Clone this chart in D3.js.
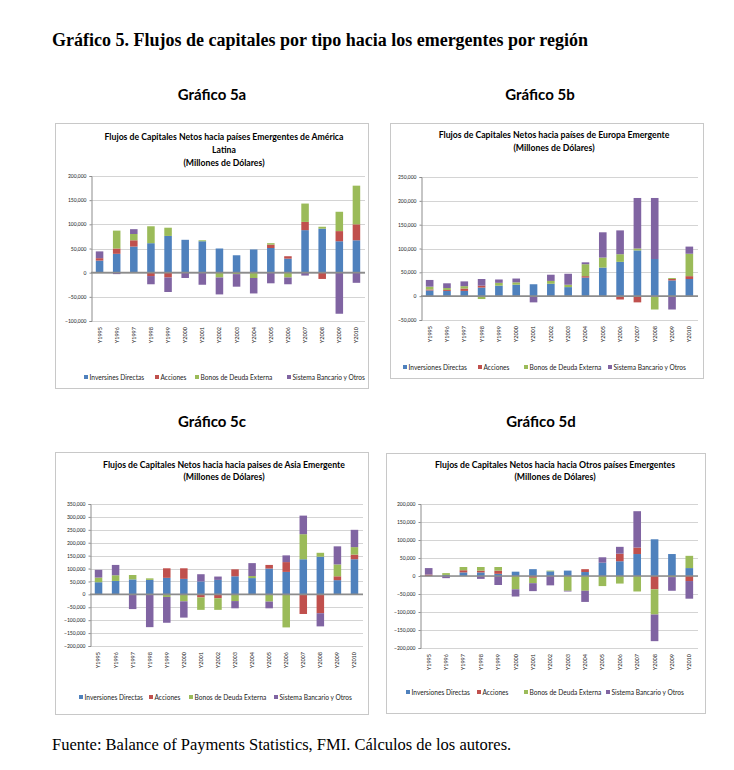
<!DOCTYPE html>
<html><head><meta charset="utf-8">
<script src="https://cdn.jsdelivr.net/npm/d3@7/dist/d3.min.js"></script>
<style>body{margin:0;background:#fff}svg{display:block}</style>
</head><body><svg id="c" width="734" height="770"></svg>
<script>
const years = ["Y1995","Y1996","Y1997","Y1998","Y1999","Y2000","Y2001","Y2002","Y2003","Y2004","Y2005","Y2006","Y2007","Y2008","Y2009","Y2010"];
const seriesNames = ["Inversiones Directas","Acciones","Bonos de Deuda Externa","Sistema Bancario  y Otros"];
const legendNamesA = ["Inversines Directas","Acciones","Bonos de Deuda Externa","Sistema Bancario  y Otros"];
const colors = ["#4F81BD","#C0504D","#9BBB59","#8064A2"];

// Gráfico 5a – América Latina (millones de dólares)
const latamIED   = [25,39,54,61,76,68,65,50,36,48,51,29,88,91,65,67];
const latamAcc   = [5,11,13,-7,-10,0,0,0,0,0,7,5,17,-13,21,33];
const latamBonos = [0,37,13,35,17,0,2,-10,-3,-11,3,-10,38,4,40,80];
const latamSist  = [14,-3,10,-17,-30,-11,-25,-35,-26,-32,-22,-14,-6,0,-85,-21];
const latamTicks = [-100000,-50000,0,50000,100000,150000,200000];

// Gráfico 5b – Europa Emergente
const europaIED   = [12,11,11,18,22,24,25,26,19,39,60,72,96,78,33,36];
const europaAcc   = [2,2,5,4,0,0,0,0,0,3,0,-7,-13,0,3,6];
const europaBonos = [6,4,5,-6,6,5,0,6,5,25,21,16,4,-28,2,47];
const europaSist  = [14,10,10,14,7,8,-13,13,23,4,53,50,106,128,-28,15];
const europaTicks = [-50000,0,50000,100000,150000,200000,250000];

// Gráfico 5c – Asia Emergente
const asiaIED   = [47,52,58,56,64,60,50,56,70,63,100,87,136,146,55,136];
const asiaAcc   = [0,0,0,0,37,41,-12,-15,27,0,14,38,-76,-73,15,18];
const asiaBonos = [18,22,17,6,-10,-27,-48,-45,-26,8,-28,-128,97,15,46,29];
const asiaSist  = [30,40,-57,-127,-100,-63,28,13,-28,50,-26,26,72,-51,70,67];
const asiaTicks = [-200000,-150000,-100000,-50000,0,50000,100000,150000,200000,250000,300000,350000];

// Gráfico 5d – Otros países Emergentes
const otrosIED   = [0,3,10,10,6,12,19,13,15,11,37,41,61,102,61,22];
const otrosAcc   = [4,0,6,5,9,0,-5,0,0,8,0,21,18,-37,0,-14];
const otrosBonos = [0,5,9,10,10,-37,-15,2,-41,-41,-28,-21,-43,-70,-3,34];
const otrosSist  = [18,-6,0,-8,-25,-20,-22,-26,-2,-31,15,19,101,-74,-38,-49];
const otrosTicks = [-200000,-150000,-100000,-50000,0,50000,100000,150000,200000];

const svg = d3.select("#c");
const fmt = d3.format(",");

// Page headings
svg.append("text").attr("x",52).attr("y",46)
  .style("font-family","'Liberation Serif','Times New Roman',serif").style("font-weight","bold").style("font-size","18px")
  .text("Gráfico 5. Flujos de capitales por tipo hacia los emergentes por región");
const subs = [["Gráfico 5a",212,100],["Gráfico 5b",540,100],["Gráfico 5c",212,427],["Gráfico 5d",541,427]];
subs.forEach(s=>svg.append("text").attr("x",s[1]).attr("y",s[2]).attr("text-anchor","middle")
  .style("font-family","Lato,'Open Sans',sans-serif").style("font-weight","bold").style("font-size","15px").text(s[0]));
svg.append("text").attr("x",52).attr("y",750)
  .style("font-family","'Liberation Serif','Times New Roman',serif").style("font-size","16.5px")
  .text("Fuente: Balance of Payments Statistics, FMI. Cálculos de los autores.");

function panel(cfg){
  const g = svg.append("g");
  g.append("rect").attr("x",cfg.box[0]+0.5).attr("y",cfg.box[1]+0.5).attr("width",cfg.box[2]).attr("height",cfg.box[3])
    .attr("fill","#fff").attr("stroke","#c8c8c8").attr("stroke-width",1);
  cfg.title.forEach((t,i)=>g.append("text").attr("x",cfg.tx).attr("y",cfg.ty[i]).attr("text-anchor","middle")
    .style("font-family","Lato,'Open Sans',sans-serif").style("font-weight","bold").style("font-size","8.7px").text(t));
  const rows = years.map((y,i)=>{const o={year:y}; cfg.data.forEach((arr,k)=>o["s"+k]=arr[i]*1000); return o;});
  const keys = ["s0","s1","s2","s3"];
  const stack = d3.stack().keys(keys).order(d3.stackOrderNone).offset(d3.stackOffsetDiverging)(rows);
  const x = d3.scaleBand().domain(years).range([cfg.x0,cfg.x1]).paddingInner(0.56).paddingOuter(0.28);
  const y = d3.scaleLinear().domain(cfg.domain).range([cfg.yBottom,cfg.yTop]);
  // gridlines
  g.append("g").selectAll("line").data(cfg.ticks).join("line")
    .attr("x1",cfg.x0).attr("x2",cfg.x1).attr("y1",d=>Math.round(y(d))+0.5).attr("y2",d=>Math.round(y(d))+0.5)
    .attr("stroke","#d4d4d4").attr("stroke-width",1);
  // y axis
  const ya = g.append("g").attr("transform",`translate(${cfg.x0+0.5},0)`)
    .call(d3.axisLeft(y).tickValues(cfg.ticks).tickFormat(fmt).tickSize(2).tickPadding(3));
  ya.select(".domain").attr("stroke","#8c8c8c");
  ya.selectAll(".tick line").attr("stroke","#8c8c8c");
  ya.selectAll("text").style("font-family","Lato,'Open Sans',sans-serif").style("font-size","5px").attr("fill","#222");
  // bars
  g.append("g").selectAll("g").data(stack).join("g").attr("fill",(d,i)=>colors[i])
    .selectAll("rect").data(d=>d).join("rect")
    .attr("x",d=>x(d.data.year)).attr("width",x.bandwidth())
    .attr("y",d=>y(Math.max(d[0],d[1]))).attr("height",d=>Math.abs(y(d[0])-y(d[1])));
  // zero line
  g.append("line").attr("x1",cfg.x0).attr("x2",cfg.x1).attr("y1",y(0)).attr("y2",y(0))
    .attr("stroke","#8c8c8c").attr("stroke-width",1.6);
  // x axis labels (rotated)
  const xa = g.append("g").attr("transform",`translate(0,${cfg.yBottom})`)
    .call(d3.axisBottom(x).tickSize(0).tickPadding(0));
  xa.select(".domain").remove();
  xa.selectAll("text").attr("transform","rotate(-90)").attr("text-anchor","end")
    .attr("x",-6).attr("y",0).attr("dy","0.35em")
    .style("font-family","Lato,'Open Sans',sans-serif").style("font-size","5.5px").attr("fill","#222");
  // legend
  const lg = g.append("g");
  cfg.legend.forEach((name,i)=>{
    lg.append("rect").attr("x",cfg.lx[i]).attr("y",cfg.ly-3).attr("width",4).attr("height",4).attr("fill",colors[i]);
    lg.append("text").attr("x",cfg.lx[i]+5.5).attr("y",cfg.ly+1.5)
      .style("font-family","Lato,'Open Sans',sans-serif").style("font-size","6.6px").attr("fill","#222").text(name);
  });
}

panel({box:[55,123,313,265], title:["Flujos de Capitales Netos hacia países Emergentes de América","Latina","(Millones de Dólares)"],
  tx:224, ty:[140,153,166], data:[latamIED,latamAcc,latamBonos,latamSist], domain:[-100000,200000], ticks:latamTicks,
  x0:91, x1:365, yTop:176, yBottom:321, legend:legendNamesA, lx:[84,155,195,287], ly:378});
panel({box:[390,123,313,255], title:["Flujos de Capitales Netos hacia países de Europa Emergente","(Millones de Dólares)"],
  tx:554, ty:[138,151], data:[europaIED,europaAcc,europaBonos,europaSist], domain:[-50000,250000], ticks:europaTicks,
  x0:421, x1:698, yTop:177, yBottom:320, legend:seriesNames, lx:[403,478,524,608], ly:368});
panel({box:[55,452,313,262], title:["Flujos de Capitales Netos hacia hacia paises de Asia Emergente","(Millones de Dólares)"],
  tx:224, ty:[468,480], data:[asiaIED,asiaAcc,asiaBonos,asiaSist], domain:[-200000,350000], ticks:asiaTicks,
  x0:90, x1:363, yTop:504, yBottom:646, legend:seriesNames, lx:[79,149,189,274], ly:698});
panel({box:[386,453,319,260], title:["Flujos de Capitales Netos hacia hacia Otros países Emergentes","(Millones de Dólares)"],
  tx:555, ty:[468,480], data:[otrosIED,otrosAcc,otrosBonos,otrosSist], domain:[-200000,200000], ticks:otrosTicks,
  x0:420, x1:698, yTop:504, yBottom:648, legend:seriesNames, lx:[406,477,524,606], ly:693});
</script></body></html>
